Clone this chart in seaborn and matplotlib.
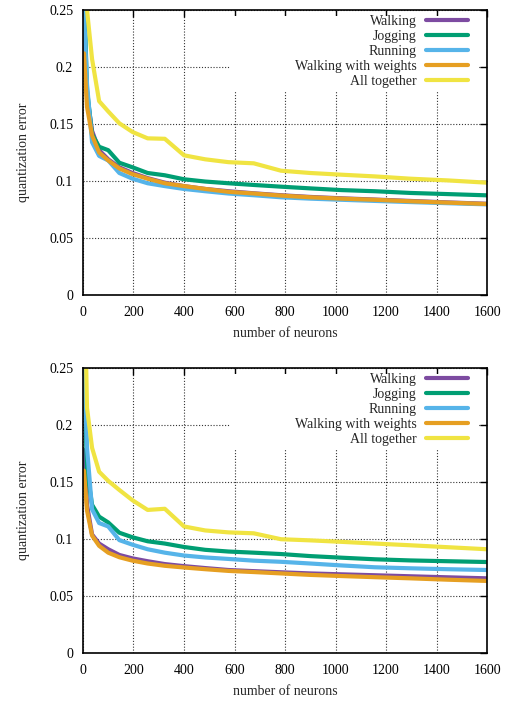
import numpy as np
import pandas as pd
import seaborn as sns
import matplotlib
matplotlib.use('Agg')
import matplotlib.pyplot as plt
from matplotlib.patches import Rectangle
from matplotlib.ticker import FormatStrFormatter

neurons = [4, 16, 36, 64, 100, 144, 196, 256, 324, 400, 484, 576, 676, 784, 900, 1024, 1156, 1296, 1444, 1600]
activities = ['Walking', 'Jogging', 'Running', 'Walking with weights', 'All together']
colors = ['#7d4ba1', '#009e73', '#56b4e9', '#e69f22', '#f0e442']

# top panel
walking_a = [0.234, 0.175, 0.144, 0.127, 0.119, 0.112, 0.107, 0.1025, 0.0985, 0.0955, 0.093, 0.091, 0.0892, 0.0875, 0.086, 0.0848, 0.0837, 0.0825, 0.0812, 0.0800]
jogging_a = [0.27, 0.18, 0.141, 0.130, 0.127, 0.116, 0.112, 0.107, 0.105, 0.1015, 0.0995, 0.098, 0.0965, 0.095, 0.0935, 0.092, 0.091, 0.0895, 0.0885, 0.0874]
running_a = [0.25, 0.185, 0.134, 0.122, 0.118, 0.107, 0.102, 0.098, 0.0955, 0.093, 0.091, 0.089, 0.0875, 0.0857, 0.0845, 0.0835, 0.0825, 0.0815, 0.0805, 0.0795]
weights_a = [0.212, 0.165, 0.140, 0.125, 0.118, 0.111, 0.106, 0.102, 0.098, 0.0955, 0.093, 0.0905, 0.089, 0.0872, 0.0857, 0.0845, 0.0835, 0.0822, 0.081, 0.0798]
all_a = [0.40, 0.25, 0.207, 0.170, 0.161, 0.1506, 0.143, 0.1374, 0.137, 0.1225, 0.119, 0.1165, 0.1155, 0.109, 0.107, 0.1055, 0.104, 0.102, 0.1005, 0.0985]

# bottom panel
walking_b = [0.178, 0.13, 0.104, 0.096, 0.091, 0.086, 0.083, 0.0805, 0.078, 0.0762, 0.0745, 0.0728, 0.0718, 0.0708, 0.0698, 0.069, 0.0682, 0.0673, 0.0664, 0.0655]
jogging_b = [0.26, 0.16, 0.13, 0.1196, 0.1145, 0.1055, 0.1015, 0.098, 0.096, 0.093, 0.0905, 0.089, 0.088, 0.0868, 0.085, 0.0836, 0.0822, 0.0812, 0.0805, 0.0798]
running_b = [0.25, 0.18, 0.126, 0.114, 0.111, 0.099, 0.095, 0.091, 0.088, 0.0855, 0.0838, 0.0825, 0.081, 0.080, 0.0785, 0.0768, 0.0752, 0.0743, 0.0735, 0.0728]
weights_b = [0.160, 0.125, 0.103, 0.094, 0.088, 0.084, 0.081, 0.0785, 0.0765, 0.075, 0.0735, 0.072, 0.071, 0.0698, 0.0685, 0.0675, 0.0665, 0.0655, 0.0643, 0.0632]
all_b = [0.35, 0.215, 0.18, 0.159, 0.151, 0.143, 0.134, 0.1255, 0.1265, 0.111, 0.1075, 0.1058, 0.105, 0.0998, 0.0988, 0.0975, 0.096, 0.0945, 0.0928, 0.091]

sns.set_theme(style='white')
plt.rcParams['font.family'] = ['Liberation Serif', 'DejaVu Serif']
plt.rcParams['font.size'] = 10


def long_table(series):
    rows = []
    for name, vals in zip(activities, series):
        for n, v in zip(neurons, vals):
            rows.append({'neurons': n, 'error': v, 'activity': name})
    return pd.DataFrame(rows)


def draw_panel(ax, df):
    ax.set_axisbelow(True)
    ax.grid(True, color='#333333', linestyle=(0, (1, 1.6)), linewidth=0.8)
    # blank area behind the key, like gnuplot
    ax.add_patch(Rectangle((0.364, 0.712), 0.614, 0.267, transform=ax.transAxes,
                           facecolor='white', edgecolor='none', zorder=1))
    sns.lineplot(data=df, x='neurons', y='error', hue='activity', hue_order=activities,
                 palette=colors, linewidth=3, ax=ax, legend=False, zorder=2)
    ax.set_xlim(0, 1600)
    ax.set_ylim(0, 0.25)
    ax.set_xticks(range(0, 1601, 200))
    ax.set_yticks([0, 0.05, 0.1, 0.15, 0.2, 0.25])
    ax.yaxis.set_major_formatter(FormatStrFormatter('%g'))
    ax.tick_params(direction='in', top=True, right=True, length=5, width=1,
                   colors='black', labelsize=10)
    ax.tick_params(axis='x', pad=8)
    ax.tick_params(axis='y', pad=7)
    for sp in ax.spines.values():
        sp.set_color('black')
        sp.set_linewidth(1.2)
    ax.set_xlabel('number of neurons', fontsize=10, labelpad=6)
    ax.set_ylabel('quantization error', fontsize=10, labelpad=14)
    handles = [plt.Line2D([], [], color=c, linewidth=3) for c in colors]
    ax.legend(handles, activities, loc='upper right', bbox_to_anchor=(0.953, 1 - 5 / 285),
              frameon=False, markerfirst=False, borderpad=0, handlelength=3.0,
              handletextpad=0.7, labelspacing=0.15, fontsize=10, borderaxespad=0)


fig = plt.figure(figsize=(5.09, 7.02), dpi=100)
ax1 = fig.add_axes([0.163, 0.5798, 0.794, 0.406])
ax2 = fig.add_axes([0.163, 0.0698, 0.794, 0.406])

draw_panel(ax1, long_table([walking_a, jogging_a, running_a, weights_a, all_a]))
draw_panel(ax2, long_table([walking_b, jogging_b, running_b, weights_b, all_b]))

fig.savefig('out.png', dpi=100)
